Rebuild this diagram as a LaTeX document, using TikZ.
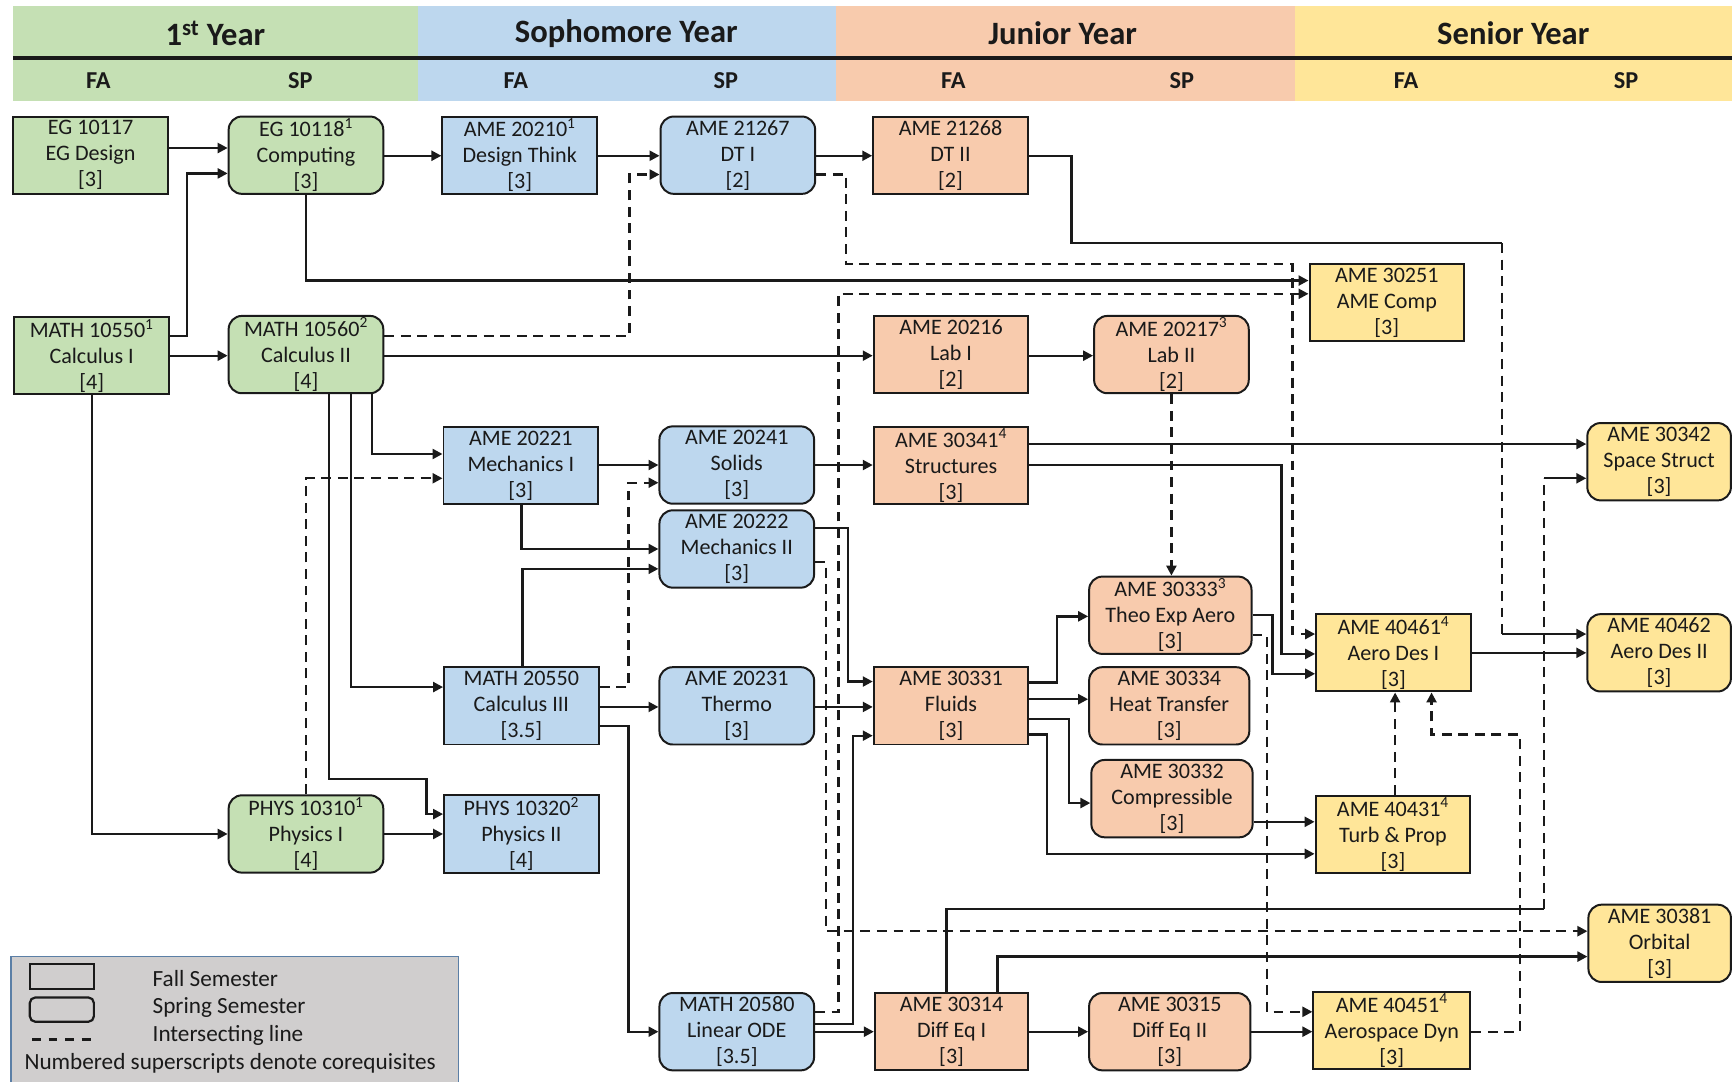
\documentclass[tikz,border=0pt]{standalone}
\usepackage{fontspec}
\setmainfont{Carlito}
\usetikzlibrary{arrows.meta}
\definecolor{cgreen}{HTML}{C5E0B4}
\definecolor{cblue}{HTML}{BDD7EE}
\definecolor{corange}{HTML}{F8CBAD}
\definecolor{cyellow}{HTML}{FFE699}
\definecolor{lgray}{HTML}{D0CECE}
\definecolor{lborder}{HTML}{5B7FA6}
\definecolor{ink}{HTML}{1A1A1A}
\tikzset{
  box/.style={draw=ink, line width=1.8pt, minimum width=140pt, minimum height=70pt,
    align=center, inner sep=0pt, font=\fontsize{20}{23.5}\selectfont, text=ink},
  fallbox/.style={box},
  springbox/.style={box, rounded corners=12pt},
  hdr/.style={font=\bfseries\fontsize{29.5}{33}\selectfont, text=ink},
  sem/.style={font=\bfseries\fontsize{22}{25}\selectfont, text=ink},
  legtext/.style={anchor=west, font=\fontsize{21}{24}\selectfont, text=ink, inner sep=0pt},
  conn/.style={line width=2.1pt, draw=ink, -{Triangle[length=9pt,width=9pt]}},
  seg/.style={line width=2.1pt, draw=ink},
  dsh/.style={dash pattern=on 9pt off 6pt},
}
\begin{document}
\begin{tikzpicture}[x=1pt,y=-1pt]
\useasboundingbox (0,0) rectangle (1568,979);
% header bands
\fill[cgreen] (12,5) rectangle (378,91);
\fill[cblue] (378,5) rectangle (757,91);
\fill[corange] (757,5) rectangle (1172,91);
\fill[cyellow] (1172,5) rectangle (1568,91);
\draw[line width=2.8pt, ink] (12,52.5) -- (1568,52.5);
\node[hdr] (y1) at (195,30) {1\textsuperscript{st} Year};
\node[hdr] (y2) at (567,30) {Sophomore Year};
\node[hdr] (y3) at (962,30) {Junior Year};
\node[hdr] (y4) at (1370,30) {Senior Year};
\node[sem] (s1) at (89,73) {FA};
\node[sem] (s2) at (272,73) {SP};
\node[sem] (s3) at (467,73) {FA};
\node[sem] (s4) at (657,73) {SP};
\node[sem] (s5) at (863,73) {FA};
\node[sem] (s6) at (1070,73) {SP};
\node[sem] (s7) at (1273,73) {FA};
\node[sem] (s8) at (1472,73) {SP};

% course nodes
\node[fallbox, fill=cgreen] (eg117) at (82,140.5) {EG 10117\\EG Design\\{[3]}};
\node[springbox, fill=cgreen] (eg118) at (277,140.5) {EG 10118\textsuperscript{1}\\Computing\\{[3]}};
\node[fallbox, fill=cblue] (a20210) at (470.5,140.5) {AME 20210\textsuperscript{1}\\Design Think\\{[3]}};
\node[springbox, fill=cblue] (a21267) at (668,140.5) {AME 21267\\DT I\\{[2]}};
\node[fallbox, fill=corange] (a21268) at (860.5,140.5) {AME 21268\\DT II\\{[2]}};
\node[fallbox, fill=cyellow] (a30251) at (1255.5,274) {AME 30251\\AME Comp\\{[3]}};
\node[fallbox, fill=cgreen] (m10550) at (83,322) {MATH 10550\textsuperscript{1}\\Calculus I\\{[4]}};
\node[springbox, fill=cgreen] (m10560) at (277,321) {MATH 10560\textsuperscript{2}\\Calculus II\\{[4]}};
\node[fallbox, fill=corange] (a20216) at (861,321) {AME 20216\\Lab I\\{[2]}};
\node[springbox, fill=corange] (a20217) at (1060.5,321) {AME 20217\textsuperscript{3}\\Lab II\\{[2]}};
\node[fallbox, fill=cblue] (a20221) at (471.5,421.5) {AME 20221\\Mechanics I\\{[3]}};
\node[springbox, fill=cblue] (a20241) at (667,421) {AME 20241\\Solids\\{[3]}};
\node[fallbox, fill=corange] (a30341) at (861,421.5) {AME 30341\textsuperscript{4}\\Structures\\{[3]}};
\node[springbox, fill=cyellow, minimum width=130pt] (a30342) at (1502,418) {AME 30342\\Space Struct\\{[3]}};
\node[springbox, fill=cblue] (a20222) at (667,497) {AME 20222\\Mechanics II\\{[3]}};
\node[springbox, fill=corange, minimum width=147pt] (a30333) at (1059.5,557) {AME 30333\textsuperscript{3}\\Theo Exp Aero\\{[3]}};
\node[fallbox, fill=cyellow] (a40461) at (1261.5,591) {AME 40461\textsuperscript{4}\\Aero Des I\\{[3]}};
\node[springbox, fill=cyellow, minimum width=130pt] (a40462) at (1502,591) {AME 40462\\Aero Des II\\{[3]}};
\node[fallbox, fill=cblue] (m20550) at (472,639) {MATH 20550\\Calculus III\\{[3.5]}};
\node[springbox, fill=cblue] (a20231) at (667,639) {AME 20231\\Thermo\\{[3]}};
\node[fallbox, fill=corange] (a30331) at (861,639) {AME 30331\\Fluids\\{[3]}};
\node[springbox, fill=corange, minimum width=145pt] (a30334) at (1058.5,639) {AME 30334\\Heat Transfer\\{[3]}};
\node[springbox, fill=corange, minimum width=146pt] (a30332) at (1061,723) {AME 30332\\Compressible\\{[3]}};
\node[springbox, fill=cgreen] (p10310) at (277,755) {PHYS 10310\textsuperscript{1}\\Physics I\\{[4]}};
\node[fallbox, fill=cblue] (p10320) at (472,755) {PHYS 10320\textsuperscript{2}\\Physics II\\{[4]}};
\node[fallbox, fill=cyellow] (a40431) at (1261,755.5) {AME 40431\textsuperscript{4}\\Turb \& Prop\\{[3]}};
\node[springbox, fill=cyellow, minimum width=129pt] (a30381) at (1502.5,854) {AME 30381\\Orbital\\{[3]}};
\node[springbox, fill=cblue] (m20580) at (667,934) {MATH 20580\\Linear ODE\\{[3.5]}};
\node[fallbox, fill=corange, minimum width=139pt] (a30314) at (861.5,934) {AME 30314\\Diff Eq I\\{[3]}};
\node[springbox, fill=corange, minimum width=146pt] (a30315) at (1059,934) {AME 30315\\Diff Eq II\\{[3]}};
\node[fallbox, fill=cyellow, minimum width=142pt] (a40451) at (1260,933) {AME 40451\textsuperscript{4}\\Aerospace Dyn\\{[3]}};

% connectors
\draw[conn] (eg117.east |- 0,134) -- (eg118.west |- 0,134);
\draw[conn] (m10550.east |- 0,304) -- (169,304) -- (169,157) -- (eg118.west |- 0,157);
\draw[conn] (m10550.east |- 0,322) -- (m10560.west |- 0,322);
\draw[conn] (eg118.east |- 0,141) -- (a20210.west |- 0,141);
\draw[conn] (a20210.east |- 0,141) -- (a21267.west |- 0,141);
\draw[conn] (a21267.east |- 0,141) -- (a21268.west |- 0,141);
\draw[conn,dsh] (m10560.east |- 0,304) -- (570,304) -- (570,158) -- (a21267.west |- 0,158);
\draw[conn] (eg118.south) -- (277,254) -- (a30251.west |- 0,254);
\draw[conn,dsh] (a21267.east |- 0,158) -- (766,158) -- (766,239) -- (1170,239) -- (1170,574) -- (a40461.west |- 0,574);
\coordinate (k10a) at (1360,220);
\coordinate (k10b) at (1360,574);
\draw[seg] (a21268.east |- 0,141) -- (970,141) -- (970,220) -- (k10a);
\draw[seg,dsh] (k10a) -- (k10b);
\draw[conn] (k10b) -- (a40462.west |- k10b);
\draw[conn] (m10560.east |- 0,322) -- (a20216.west |- 0,322);
\draw[conn] (a20216.east |- 0,322) -- (a20217.west |- 0,322);
\draw[conn,dsh] (a20217.south) -- (a30333.north -| a20217.south);
\draw[conn,dsh] (m20580.east |- 0,916) -- (759,916) -- (759,266) -- (a30251.west |- 0,266);
\draw[conn] (m10560.south -| 337,0) -- (337,411) -- (a20221.west |- 0,411);
\draw[conn] (m10560.south -| 318,0) -- (318,622) -- (m20550.west |- 0,622);
\draw[conn] (m10560.south -| 298,0) -- (298,705) -- (386,705) -- (386,737) -- (p10320.west |- 0,737);
\draw[conn,dsh] (p10310.north) -- (277,433) -- (a20221.west |- 0,433);
\draw[conn] (m10550.south) -- (83,755) -- (p10310.west |- 0,755);
\draw[conn] (p10310.east |- 0,755) -- (p10320.west |- 0,755);
\draw[conn] (a20221.east |- 0,421) -- (a20241.west |- 0,421);
\draw[conn] (a20221.south -| 472,0) -- (472,497) -- (a20222.west |- 0,497);
\draw[conn] (m20550.north -| 473,0) -- (473,515) -- (a20222.west |- 0,515);
\draw[conn,dsh] (m20550.east |- 0,622) -- (569,622) -- (569,437) -- (a20241.west |- 0,437);
\draw[conn] (m20550.east |- 0,640) -- (a20231.west |- 0,640);
\draw[conn] (m20550.east |- 0,657) -- (569,657) -- (569,934) -- (m20580.west |- 0,934);
\draw[conn] (a20231.east |- 0,640) -- (a30331.west |- 0,640);
\draw[conn] (a20241.east |- 0,421) -- (a30341.west |- 0,421);
\draw[conn] (a30341.east |- 0,402) -- (a30342.west |- 0,402);
\draw[conn] (a30341.east |- 0,421) -- (1160,421) -- (1160,592) -- (a40461.west |- 0,592);
\draw[conn] (a20222.east |- 0,478) -- (768,478) -- (768,617) -- (a30331.west |- 0,617);
\draw[conn,dsh] (a20222.east |- 0,509) -- (748,509) -- (748,843) -- (a30381.west |- 0,843);
\draw[conn] (m20580.east |- 0,927) -- (772,927) -- (772,666) -- (a30331.west |- 0,666);
\draw[conn] (m20580.east |- 0,934) -- (a30314.west |- 0,934);
\coordinate (k35a) at (1398,823);
\coordinate (k35b) at (1398,433);
\draw[seg] (a30314.north -| 857,0) -- (857,823) -- (k35a);
\draw[seg,dsh] (k35a) -- (k35b);
\draw[conn] (k35b) -- (a30342.west |- k35b);
\draw[conn] (a30314.north -| 903,0) -- (903,866) -- (a30381.west |- 0,866);
\draw[conn] (a30314.east |- 0,934) -- (a30315.west |- 0,934);
\draw[conn] (a30315.east |- 0,934) -- (a40451.west |- 0,934);
\draw[conn,dsh] (a30333.east |- 0,575) -- (1147,575) -- (1147,916) -- (a40451.west |- 0,916);
\draw[conn] (a30333.east |- 0,557) -- (1152,557) -- (1152,610) -- (a40461.west |- 0,610);
\draw[conn] (a30331.east |- 0,618) -- (957,618) -- (957,558) -- (a30333.west |- 0,558);
\draw[conn] (a30331.east |- 0,633) -- (a30334.west |- 0,633);
\draw[conn] (a30331.east |- 0,651) -- (968,651) -- (968,727) -- (a30332.west |- 0,727);
\draw[conn] (a30331.east |- 0,665) -- (948,665) -- (948,773) -- (a40431.west |- 0,773);
\draw[conn] (a30332.east |- 0,744) -- (a40431.west |- 0,744);
\draw[conn] (a40461.east |- 0,591) -- (a40462.west |- 0,591);
\draw[conn,dsh] (a40431.north -| 1263,0) -- (a40461.south -| 1263,0);
\draw[conn,dsh] (a40451.east |- 0,934) -- (1376,934) -- (1376,665) -- (1296,665) -- (a40461.south -| 1296,0);

% legend
\draw[draw=lborder, fill=lgray, line width=1pt] (10,866) rectangle (415,995);
\node[draw=ink, line width=2pt, minimum width=58pt, minimum height=22pt, inner sep=0pt] (lf) at (56,884) {};
\node[draw=ink, line width=2pt, minimum width=58pt, minimum height=22pt, inner sep=0pt, rounded corners=5pt] (ls) at (56,914) {};
\coordinate (ld1) at (29,941);
\coordinate (ld2) at (86,941);
\draw[seg, dash pattern=on 8pt off 7pt] (ld1) -- (ld2);
\node[legtext] (lt1) at (138,886) {Fall Semester};
\node[legtext] (lt2) at (138,912) {Spring Semester};
\node[legtext] (lt3) at (138,937) {Intersecting line};
\node[legtext] (lt4) at (22,963) {Numbered superscripts denote corequisites};
\end{tikzpicture}
\end{document}
